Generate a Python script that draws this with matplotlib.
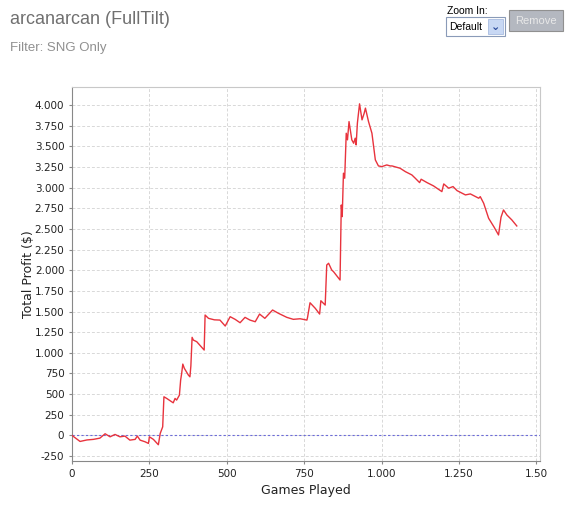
import matplotlib
matplotlib.use('Agg')
import matplotlib.pyplot as plt
from matplotlib.patches import Rectangle

# (games played, total profit $)
games = [0, 26, 48, 69, 90, 107, 123, 139, 155, 171, 187, 204, 211, 220, 236, 247, 250,
         263, 279, 285, 293, 297, 306, 327, 333, 338, 347, 351, 354, 358, 363, 376, 381,
         384, 388, 392, 403, 427, 430, 441, 460, 478, 495, 511, 527, 543, 559, 575, 592,
         606, 623, 648, 667, 694, 715, 737, 759, 761, 769, 786, 800, 804, 818, 823, 829,
         839, 845, 866, 870, 873, 877, 881, 886, 890, 895, 904, 910, 915, 918, 922, 929,
         937, 944, 948, 958, 969, 980, 990, 1001, 1017, 1028, 1034, 1060, 1077, 1098,
         1109, 1123, 1128, 1147, 1168, 1195, 1201, 1217, 1231, 1244, 1271, 1287, 1314,
         1319, 1330, 1346, 1364, 1378, 1386, 1394, 1405, 1421, 1437]
profit = [0, -73, -55, -48, -33, 20, -17, 12, -17, -8, -57, -48, -8, -57, -77, -97, -17,
          -48, -113, 24, 104, 468, 448, 395, 448, 428, 488, 670, 743, 864, 812, 731, 710,
          840, 1188, 1155, 1135, 1034, 1458, 1418, 1400, 1397, 1325, 1438, 1406, 1365,
          1430, 1397, 1377, 1470, 1418, 1519, 1479, 1430, 1406, 1413, 1397, 1430, 1607,
          1539, 1470, 1631, 1579, 2064, 2085, 2004, 1983, 1882, 2791, 2650, 3176, 3115,
          3660, 3580, 3801, 3580, 3539, 3600, 3519, 3782, 4016, 3822, 3903, 3964, 3801,
          3660, 3337, 3264, 3256, 3276, 3264, 3264, 3236, 3195, 3155, 3115, 3062, 3103,
          3062, 3022, 2953, 3046, 2994, 3014, 2965, 2913, 2925, 2873, 2892, 2812, 2630,
          2521, 2428, 2642, 2731, 2670, 2610, 2537]

xticks = [0, 250, 500, 750, 1000, 1250, 1500]
xtick_labels = ['0', '250', '500', '750', '1.000', '1.250', '1.50']
yticks = [-250, 0, 250, 500, 750, 1000, 1250, 1500, 1750, 2000, 2250, 2500, 2750,
          3000, 3250, 3500, 3750, 4000]
ytick_labels = ['-250', '0', '250', '500', '750', '1.000', '1.250', '1.500', '1.750',
                '2.000', '2.250', '2.500', '2.750', '3.000', '3.250', '3.500', '3.750',
                '4.000']

fig = plt.figure(figsize=(5.76, 5.07), dpi=100)
ax = fig.add_axes([0.125, 0.0907, 0.8125, 0.7377])

ax.plot(games, profit, color='#e8333d', lw=1.0, zorder=3)
ax.axhline(0, color='#6c6cd8', lw=0.8, ls=(0, (2, 2)), zorder=2)

ax.set_xlim(0, 1512)
ax.set_ylim(-310, 4220)
ax.set_xticks(xticks)
ax.set_xticklabels(xtick_labels)
ax.set_yticks(yticks)
ax.set_yticklabels(ytick_labels)
ax.tick_params(labelsize=7.5, length=2, color='#888888', labelcolor='#222222')
ax.grid(True, color='#d8d8d8', ls=(0, (3, 2)), lw=0.7)
ax.set_axisbelow(True)
for s in ['left', 'bottom']:
    ax.spines[s].set_color('#888888')
for s in ['top', 'right']:
    ax.spines[s].set_color('#c8c8c8')

ax.set_xlabel('Games Played', fontsize=9, color='#222222', labelpad=4)
ax.set_ylabel('Total Profit ($)', fontsize=9, color='#222222')
ax.yaxis.set_label_coords(-0.08, 0.5)

# header
fig.text(10 / 576, 1 - 20 / 507, 'arcanarcan (FullTilt)', fontsize=13, color='#707070',
         family='Liberation Sans', va='center', ha='left')
fig.text(10 / 576, 1 - 48 / 507, 'Filter: SNG Only', fontsize=9.5, color='#909090',
         family='Liberation Sans', va='center', ha='left')
fig.text(447 / 576, 1 - 11 / 507, 'Zoom In:', fontsize=7.5, color='#000000',
         family='Liberation Sans', va='center', ha='left')

# dropdown
fig.patches.append(Rectangle((446 / 576, 1 - 36 / 507), 59 / 576, 19 / 507,
                             transform=fig.transFigure, fc='white', ec='#8a9bb8', lw=0.8))
fig.text(449 / 576, 1 - 27 / 507, 'Default', fontsize=7.5, color='#000000',
         family='Liberation Sans', va='center', ha='left')
fig.patches.append(Rectangle((488 / 576, 1 - 34 / 507), 15 / 576, 15 / 507,
                             transform=fig.transFigure, fc='#c8d8f4', ec='#a8bce0', lw=0.6))
fig.text(495.5 / 576, 1 - 27 / 507, '\u2304', fontsize=8, color='#2a4a9a',
         va='center', ha='center', fontweight='bold')

# remove button
fig.patches.append(Rectangle((509 / 576, 1 - 31 / 507), 54 / 576, 21 / 507,
                             transform=fig.transFigure, fc='#b4b8c0', ec='#909090', lw=0.8))
fig.text(536 / 576, 1 - 20.5 / 507, 'Remove', fontsize=8, color='#e8e8e8',
         family='Liberation Sans', va='center', ha='center')

fig.savefig('out.png', dpi=100)
